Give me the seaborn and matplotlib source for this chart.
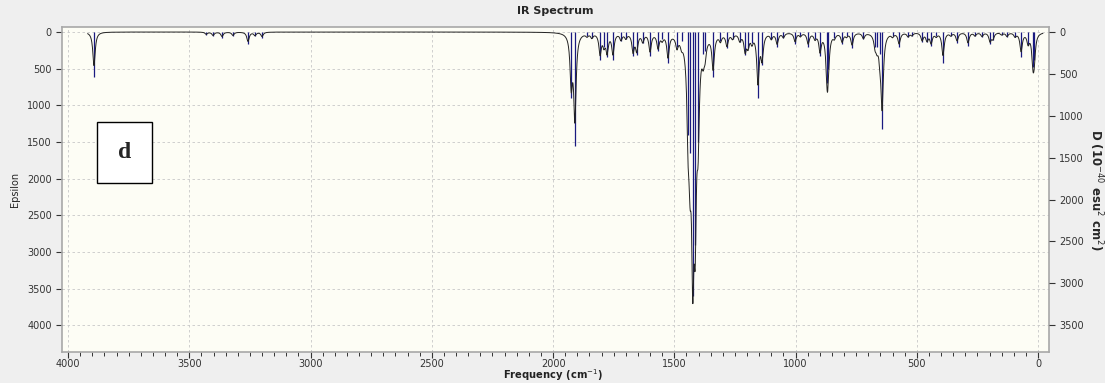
import numpy as np
import pandas as pd
import matplotlib
matplotlib.use("Agg")
import matplotlib.pyplot as plt
from matplotlib.patches import Rectangle
from matplotlib.ticker import MultipleLocator
import seaborn as sns

# ---- data: peak positions (cm^-1) and intensities (epsilon) ----
peak_freq = [3893, 3430, 3402, 3365, 3320, 3258, 3229, 3200,
             1925, 1910, 1860, 1840, 1806, 1790, 1777, 1753, 1720, 1700,
             1670, 1655, 1630, 1600, 1567, 1550, 1526, 1489, 1470,
             1443, 1435, 1424, 1414, 1402, 1381, 1373, 1340, 1310, 1283,
             1260, 1230, 1208, 1196, 1180, 1155, 1138, 1100, 1076, 1050,
             1002, 980, 948, 920, 899, 870, 866, 840, 808, 790, 767, 720,
             672, 664, 652, 643, 600, 573, 536, 520, 478, 458, 441, 420,
             392, 360, 334, 289, 260, 231, 198, 186, 150, 128, 95, 70,
             41, 21, 16]
peak_eps = [620, 40, 60, 80, 60, 170, 60, 80,
            900, 1550, 50, 80, 380, 200, 340, 380, 120, 90,
            330, 310, 150, 330, 260, 100, 420, 200, 120,
            1400, 1650, 3600, 2900, 1500, 300, 260, 620, 120, 220,
            90, 130, 310, 220, 150, 900, 450, 100, 200, 80,
            160, 60, 200, 100, 330, 700, 500, 80, 160, 60, 220, 100,
            200, 200, 300, 1330, 60, 200, 70, 50, 140, 140, 190, 60,
            420, 50, 150, 190, 60, 70, 160, 110, 40, 70, 70, 340,
            180, 480, 380]

x_ticks = [4000, 3500, 3000, 2500, 2000, 1500, 1000, 500, 0]
left_ticks = [0, 500, 1000, 1500, 2000, 2500, 3000, 3500, 4000]
right_ticks = [0, 500, 1000, 1500, 2000, 2500, 3000, 3500]

# broadened spectrum (Lorentzian line shape built from the peak list)
HWHM = 6.0
CURVE_SCALE = 0.74
grid = np.arange(-20, 3920, 0.5)
pf = np.array(peak_freq, float)[:, None]
pe = np.array(peak_eps, float)[:, None]
curve = CURVE_SCALE * (pe * HWHM**2 / ((grid[None, :] - pf) ** 2 + HWHM**2)).sum(axis=0)
spec = pd.DataFrame({"freq": grid, "eps": curve})

sns.set_theme(style="white")
plt.rcParams['font.family'] = ['DejaVu Sans']

fig = plt.figure(figsize=(11.05, 3.83), dpi=100)
fig.patch.set_facecolor("#efefef")
ax = fig.add_axes([62/1105, 1-352/383, (1049-62)/1105, (352-27)/383])
ax.set_facecolor("#fdfdf5")

# sticks
ax.vlines(peak_freq, 0, peak_eps, color="#1a1a80", lw=0.9, zorder=2)
sns.lineplot(data=spec, x="freq", y="eps", ax=ax, color="#222222", lw=0.7,
             estimator=None, sort=False, zorder=3)

ax.set_xlim(4025, -45)
ax.set_ylim(4365, -68)
ax.set_xticks(x_ticks)
ax.xaxis.set_minor_locator(MultipleLocator(50))
ax.set_yticks(left_ticks)
ax.grid(True, which="major", color="#c8c8c8", ls=(0, (3, 3)), lw=0.6)
ax.set_axisbelow(True)

for s in ax.spines.values():
    s.set_color("#a8a8a8")
    s.set_linewidth(1.2)

ax.tick_params(axis="both", which="major", labelsize=7, colors="#333333",
               length=4, width=0.8, direction="out")
ax.tick_params(axis="x", which="major", bottom=True, pad=1)
ax.tick_params(axis="x", which="minor", length=3, width=0.7, color="#333333",
               direction="out", bottom=True)
ax.tick_params(axis="y", which="major", left=True)

ax.set_xlabel("")
fig.text(553/1105, 1-375.5/383, "Frequency (cm$^{-1}$)", ha="center", va="center",
         fontsize=7.2, fontweight="bold", color="#222222")
ax.set_ylabel("Epsilon", fontsize=7, labelpad=5)
ax.set_title("IR Spectrum", fontsize=8, fontweight="bold", pad=9)

ax2 = ax.twinx()
ax2.set_ylim(4365 * 0.875, -68 * 0.875)
ax2.set_yticks(right_ticks)
ax2.tick_params(axis="y", labelsize=7, colors="#333333", length=4, width=0.8,
                direction="out", right=True)
for s in ax2.spines.values():
    s.set_visible(False)
ax2.grid(False)
ax2.set_ylabel("D (10$^{-40}$ esu$^{2}$ cm$^{2}$)", fontsize=8.5,
               fontweight="bold", rotation=270, labelpad=15)

# label box "d"
fig.patches.append(Rectangle((97/1105, 1-183/383), 55/1105, 61/383,
                             transform=fig.transFigure, facecolor="white",
                             edgecolor="black", lw=1, zorder=5))
fig.text(124.5/1105, 1-152/383, "d", ha="center", va="center",
         fontsize=17, fontweight="bold", family=["Liberation Serif", "DejaVu Serif"],
         zorder=6)

fig.savefig("out.png", dpi=100, facecolor=fig.get_facecolor())
